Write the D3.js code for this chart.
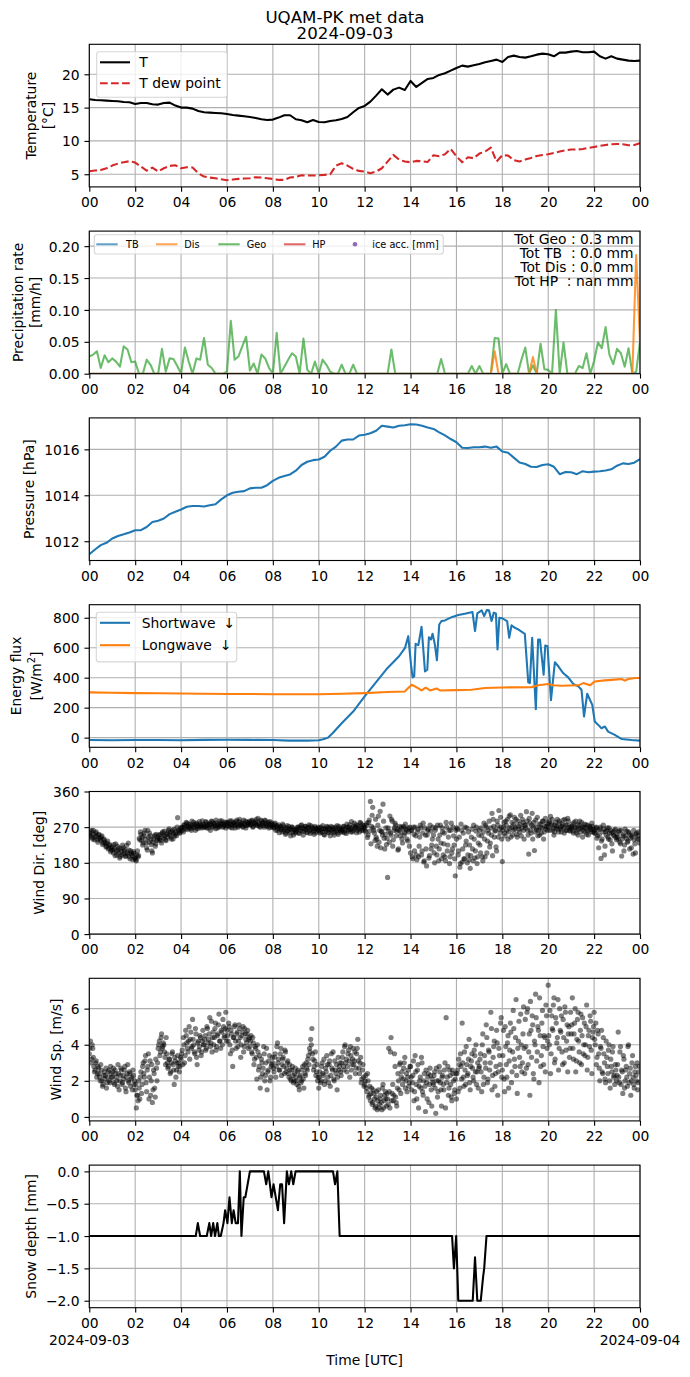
<!DOCTYPE html>
<html>
<head>
<meta charset="utf-8">
<script src="https://cdn.jsdelivr.net/npm/d3@7"></script>
<style>
body { margin: 0; background: #fff; }
text { font-family: "DejaVu Sans", sans-serif; }
</style>
</head>
<body>
<svg id="fig" width="690" height="1377"></svg>
<script>
// ---------------- DATA ----------------
const titleLines = ["UQAM-PK met data", "2024-09-03"];
const timeTickHours = [0, 2, 4, 6, 8, 10, 12, 14, 16, 18, 20, 22, 24];
const dateLabels = ["2024-09-03", "2024-09-04"];

// Temperature (15-min steps), degC
const tempValues = [16.25,16.15,16.1,16.05,16.0,15.95,15.85,15.8,15.55,15.7,15.7,15.5,15.45,15.7,15.75,15.3,
15.0,15.0,14.85,14.5,14.3,14.25,14.2,14.15,14.05,13.9,13.8,13.7,13.6,13.45,13.25,13.15,
13.2,13.5,13.85,13.85,13.25,13.1,12.8,13.15,12.85,12.8,13.0,13.1,13.3,13.6,14.3,14.95,
15.25,15.9,16.8,17.75,16.95,17.7,18.0,17.65,19.0,18.1,18.7,19.3,19.45,19.9,20.15,20.55,
20.95,21.3,21.15,21.35,21.55,21.8,22.0,22.2,21.85,22.6,22.8,22.6,22.5,22.7,22.95,23.1,
23.0,22.7,23.25,23.25,23.4,23.5,23.3,23.3,23.4,22.7,22.35,22.7,22.35,22.2,22.05,22.0,
22.05];
const dewValues = [5.45,5.55,5.65,5.9,6.3,6.6,6.8,6.95,6.75,6.15,5.55,6.0,5.4,5.9,6.25,6.35,
5.9,6.05,6.0,5.15,4.65,4.5,4.4,4.25,4.1,4.2,4.3,4.35,4.4,4.55,4.5,4.4,
4.3,4.15,4.15,4.5,4.6,4.85,4.8,4.8,4.85,4.9,5.0,6.3,6.65,6.3,5.8,5.5,
5.4,5.15,5.4,5.9,6.9,7.9,7.2,6.9,6.8,7.0,6.95,6.85,7.85,7.7,8.0,8.8,
7.7,6.8,7.55,7.4,8.1,8.4,9.0,6.9,7.85,7.8,7.1,6.9,7.2,7.45,7.75,7.9,
8.0,8.2,8.4,8.6,8.7,8.7,8.8,8.95,9.1,9.25,9.4,9.5,9.55,9.5,9.35,9.4,
9.65];
const tempTicks = [5, 10, 15, 20];
const tempLegend = ["T", "T dew point"];

// Precipitation rate (10-min steps), mm/h
const geoValues = [0.027,0.030,0.035,0.009,0.029,0.018,0.024,0.019,0.011,0.043,0.038,0.018,
0.019,0,0,0.022,0.014,0,0,0.039,0.003,0.024,0.023,0.012,
0,0.041,0.019,0,0.024,0.022,0.056,0.014,0.009,0,0,0,
0.003,0.083,0.022,0.027,0.043,0.058,0.005,0.016,0,0.03,0.024,0.009,
0,0.064,0,0.011,0.022,0.032,0.027,0,0.055,0.006,0,0.019,
0,0.022,0.014,0.003,0,0,0.014,0,0,0.014,0,0,
0,0,0,0,0,0,0,0.038,0,0,0,0,
0,0,0,0,0,0,0,0,0.023,0,0,0,
0,0,0,0,0.012,0,0.012,0,0,0,0.056,0.055,
0,0.015,0,0,0,0.022,0.041,0,0.013,0,0.047,0.007,
0.006,0,0.1,0,0.049,0,0,0,0.012,0.009,0.032,0,
0.02,0.049,0.04,0.073,0.03,0.015,0.039,0.032,0.011,0.04,0,0.003,
0.05];
const tbValues = [0,0,0,0,0,0,0,0,0,0,0,0, 0,0,0,0,0,0,0,0,0,0,0,0, 0,0,0,0,0,0,0,0,0,0,0,0,
0,0,0,0,0,0,0,0,0,0,0,0, 0,0,0,0,0,0,0,0,0,0,0,0, 0,0,0,0,0,0,0,0,0,0,0,0,
0,0,0,0,0,0,0,0,0,0,0,0, 0,0,0,0,0,0,0,0,0,0,0,0, 0,0,0,0,0,0,0,0,0,0,0,0,
0,0,0,0,0,0,0,0,0,0,0,0, 0,0,0,0,0,0,0,0,0,0,0,0, 0,0,0,0,0,0,0,0,0,0,0,0, 0];
const disValues = [0,0,0,0,0,0,0,0,0,0,0,0, 0,0,0,0,0,0,0,0,0,0,0,0, 0,0,0,0,0,0,0,0,0,0,0,0,
0,0,0,0,0,0,0,0,0,0,0,0, 0,0,0,0,0,0,0,0,0,0,0,0, 0,0,0,0,0,0,0,0,0,0,0,0,
0,0,0,0,0,0,0,0,0,0,0,0, 0,0,0,0,0,0,0,0,0,0,0,0, 0,0,0,0,0,0,0,0,0,0,0.035,0,
0,0,0,0,0,0,0,0,0.026,0,0,0, 0,0,0,0,0,0,0,0,0,0,0,0, 0,0,0,0,0,0,0,0,0,0,0,0.186, 0.05];
const precipTicks = [0, 0.05, 0.10, 0.15, 0.20];
const precipLegend = ["TB", "Dis", "Geo", "HP", "ice acc. [mm]"];
const precipTotals = ["Tot Geo : 0.3 mm", "Tot TB  : 0.0 mm", "Tot Dis : 0.0 mm", "Tot HP  : nan mm"];

// Pressure (15-min steps), hPa
const pressureValues = [1011.43,1011.64,1011.83,1011.93,1012.12,1012.23,1012.3,1012.38,1012.48,1012.48,1012.62,1012.84,1012.89,1012.99,1013.18,1013.28,
1013.38,1013.5,1013.53,1013.53,1013.51,1013.57,1013.61,1013.82,1014.0,1014.11,1014.15,1014.18,1014.3,1014.33,1014.33,1014.44,
1014.63,1014.76,1014.84,1014.91,1015.07,1015.32,1015.46,1015.53,1015.56,1015.68,1015.94,1016.12,1016.38,1016.43,1016.43,1016.6,
1016.64,1016.7,1016.81,1017.03,1016.99,1016.95,1017.03,1017.05,1017.09,1017.08,1017.03,1016.95,1016.89,1016.74,1016.61,1016.45,
1016.31,1016.07,1016.06,1016.09,1016.09,1016.12,1016.07,1016.12,1015.91,1015.85,1015.64,1015.43,1015.36,1015.24,1015.23,1015.32,
1015.35,1015.24,1014.92,1015.01,1015.0,1014.92,1015.05,1015.0,1015.03,1015.05,1015.08,1015.13,1015.29,1015.39,1015.36,1015.42,
1015.58];
const pressureTicks = [1012, 1014, 1016];

// Energy flux, W/m2 (hour of day, value)
const swHours = [0,1,2,3,4,5,6,7,8,8.7,9.5,10,10.2,10.4,10.6,10.8,11.0,11.5,12,12.5,13,13.5,
13.76,13.9,14.02,14.09,14.16,14.22,14.34,14.48,14.63,14.73,14.8,14.89,14.96,15.06,15.15,15.25,15.35,15.5,
15.79,16.08,16.37,16.7,16.81,16.91,17.02,17.1,17.21,17.32,17.42,17.53,17.63,17.72,17.79,17.87,18.0,18.21,18.3,18.4,
18.55,18.69,18.98,19.13,19.2,19.3,19.46,19.56,19.64,19.8,19.87,19.97,20.12,20.29,20.44,20.65,20.87,21.09,21.31,21.45,
21.56,21.7,21.92,22.03,22.18,22.32,22.47,22.61,22.9,23.19,23.63,24];
const swValues = [-16,-17,-16,-16,-17,-15,-14,-15,-16,-20,-20,-17,-11,0,29,63,96,174,275,371,465,543,
599,677,487,402,409,626,617,740,442,453,670,655,693,621,516,755,778,782,
804,818,827,838,711,829,840,849,811,851,849,778,834,829,588,800,796,778,666,749,
733,722,693,369,364,666,190,655,655,420,615,610,250,503,476,431,402,358,342,320,
141,293,219,107,85,63,74,40,18,-9,-16,-20];
const lwHours = [0,1,2,3,4,5,6,7,8,9,10,11,12,13,13.75,13.9,14.05,14.27,14.48,14.66,14.85,
15.14,15.28,15.93,16.66,17.24,18.0,19.28,19.57,20.0,20.22,20.58,21.31,21.53,21.82,22.03,22.47,22.9,23.19,23.34,23.49,23.78,24];
const lwValues = [302,300,297,296,295,293,291,291,290,290,290,293,297,304,308,331,353,335,315,333,315,
328,315,317,320,331,335,337,349,358,349,346,349,364,349,375,382,387,391,380,391,398,398];
const energyTicks = [0, 200, 400, 600, 800];
const energyLegend = ["Shortwave", "Longwave"];

// Wind direction, deg: samples on the 3-min marks ...
const windDirValues = [
255,248,262,240,252,245,258,238,250,243,236,248,230,240,228,222,235,218,226,212,
220,205,215,228,200,212,218,196,208,225,203,214,198,206,230,195,210,202,188,204,
192,185,210,198,238,252,245,230,255,240,218,262,232,248,226,205,240,250,228,236,
245,238,252,230,258,242,248,236,255,262,250,245,258,240,265,252,248,294,260,256,
262,270,258,275,266,280,272,268,277,262,274,282,270,278,266,275,284,272,268,276,
278,270,282,274,268,280,276,284,272,278,266,281,275,270,286,276,279,272,283,268,
274,282,278,270,286,276,280,268,284,278,273,290,276,281,270,279,285,274,280,277,
282,276,288,272,280,284,276,292,278,270,285,280,274,288,279,272,283,276,270,281,
275,268,280,272,262,276,266,270,258,274,264,252,268,260,272,256,265,270,250,262,
258,266,270,254,262,276,268,260,272,264,256,270,262,274,258,266,252,268,260,264,
262,255,270,258,266,250,264,272,258,268,248,262,270,256,266,260,274,252,268,262,
266,258,272,262,254,270,264,276,258,268,262,280,270,256,274,266,282,262,276,270,
268,258,280,250,288,335,272,320,262,236,245,222,298,262,218,258,328,242,252,226,
143,260,298,250,285,238,268,275,260,212,262,248,270,230,272,256,265,240,268,222,
205,262,190,252,270,200,258,195,245,268,210,280,185,250,172,262,192,275,215,240,
250,180,268,200,240,215,275,190,258,228,195,282,210,245,178,262,205,270,225,147,
240,265,210,169,278,182,255,190,225,268,200,188,166,245,215,275,192,260,178,230,
262,205,248,185,280,195,270,235,255,220,268,305,290,245,262,210,275,312,255,270,
183,270,255,285,262,240,298,301,270,250,278,265,290,245,272,258,300,268,282,240,
275,309,262,202,280,255,305,270,211,288,262,248,278,268,255,285,240,272,265,280,
270,285,297,278,262,250,275,268,290,258,280,265,272,288,255,276,262,292,270,260,
266,278,255,270,285,262,250,275,268,282,245,270,258,276,262,250,272,265,280,258,
262,255,270,248,218,265,191,240,275,200,258,262,245,268,238,255,210,250,262,244,
252,240,262,228,197,248,210,265,242,232,258,215,250,245,202,238,205,255,248,240];
// ... and samples half-way between them (1.5 min later)
const windDirValuesB = [
250,258,244,262,238,255,247,232,252,240,245,226,238,232,220,230,215,224,208,218,
212,226,198,210,222,205,192,215,200,218,210,196,224,202,212,190,205,198,208,192,
188,200,195,242,258,236,225,248,262,230,212,244,255,238,210,232,246,222,252,240,
250,242,236,255,248,260,238,252,245,266,256,240,262,254,248,258,270,262,255,268,
268,262,276,270,282,264,278,272,266,285,270,276,262,280,272,268,278,274,286,270,
272,284,268,278,275,262,285,270,280,274,288,268,277,272,280,286,270,278,275,282,
280,272,286,276,268,282,278,274,288,270,284,276,279,272,288,275,268,283,278,285,
276,286,270,282,278,290,274,280,272,288,276,282,270,286,274,280,268,284,278,272,
270,278,262,274,268,256,272,264,278,260,268,255,274,262,266,248,270,258,264,255,
262,270,256,268,274,260,250,266,272,258,268,276,254,264,270,260,272,256,266,270,
268,258,264,274,252,266,260,270,256,264,272,258,266,250,270,262,256,272,264,258,
262,272,256,268,278,260,270,264,284,258,272,266,276,262,270,258,280,268,262,274,
262,275,244,282,260,228,300,268,255,290,240,275,232,310,260,250,285,215,268,242,
268,232,255,290,222,262,280,248,265,215,272,258,240,268,250,278,262,235,258,270,
262,195,270,210,248,188,265,222,275,200,255,182,268,215,250,265,198,260,225,270,
205,262,222,275,185,250,230,268,200,255,185,270,225,262,195,280,215,248,190,262,
268,200,245,178,262,215,190,270,235,180,258,225,198,265,185,240,210,270,195,250,
225,268,195,258,240,275,205,262,285,230,250,198,272,260,220,285,245,265,295,240,
262,282,248,275,290,258,268,245,282,262,295,270,252,285,265,278,248,290,262,275,
268,285,250,292,262,275,240,282,258,270,295,262,250,278,268,285,258,292,272,262,
280,262,275,290,268,258,282,272,265,285,270,258,278,268,290,262,275,285,262,270,
272,260,282,268,255,276,265,285,258,270,262,278,268,252,275,262,270,258,272,265,
255,268,242,262,250,270,235,258,265,222,250,268,240,255,262,228,258,248,265,238,
245,258,232,262,240,252,225,248,260,235,255,242,218,250,262,228,252,240,258,230];
const windDirTicks = [0, 90, 180, 270, 360];

// Wind speed, m/s: samples on the 3-min marks ...
const windSpValues = [
3.5,4.2,3.2,3.8,2.8,2.6,3.1,2.4,2.7,2.2,2.9,2.0,1.8,2.5,2.3,1.6,2.2,2.6,1.9,2.4,
2.2,2.7,1.8,2.4,2.0,2.9,1.5,2.3,2.6,1.9,2.1,2.8,1.4,2.4,2.0,2.5,1.7,2.2,2.6,1.8,
1.5,0.5,1.2,2.0,1.0,2.5,1.8,3.0,2.2,3.4,1.4,2.8,1.0,3.1,2.0,0.8,2.6,1.6,3.2,2.0,
3.8,4.2,3.6,4.6,3.9,4.0,3.3,4.4,3.0,2.8,3.2,2.5,3.5,2.9,1.8,3.1,2.6,3.4,3.0,2.8,
3.2,3.7,4.4,3.0,4.8,4.1,3.6,5.0,4.3,3.8,5.4,4.0,3.5,4.6,2.9,4.2,3.9,4.4,3.6,4.8,
4.0,4.5,3.8,4.9,4.3,5.5,4.1,3.6,4.7,4.4,5.2,3.9,4.6,5.7,4.2,4.8,4.0,5.0,4.5,5.8,
4.8,4.2,5.0,3.5,4.6,2.8,4.4,5.1,3.8,4.7,4.2,4.9,3.3,4.5,5.0,3.9,4.6,4.1,4.8,4.3,
3.9,4.5,3.5,4.1,3.2,3.8,2.1,3.6,2.8,1.6,3.2,2.4,3.9,2.0,3.0,1.5,2.6,3.4,2.2,2.9,
3.0,2.5,3.5,2.8,4.1,3.2,2.6,3.8,2.9,3.3,2.4,3.6,2.7,3.1,2.2,2.6,2.0,2.8,1.9,2.4,
2.2,1.8,2.6,1.5,2.3,2.0,2.8,1.6,2.4,3.0,2.6,3.4,3.8,4.3,4.9,3.2,2.8,3.6,2.5,2.0,
1.6,2.5,2.0,3.0,2.3,1.8,2.7,3.4,2.2,2.9,1.7,3.5,2.6,2.1,3.1,2.4,1.5,3.3,2.8,2.5,
3.0,3.6,2.6,4.0,3.2,2.8,3.7,2.2,3.4,2.9,3.8,3.1,2.4,3.5,4.3,2.7,3.0,1.9,2.6,2.2,
1.8,2.3,1.4,2.0,1.2,0.9,1.6,0.8,1.3,0.5,1.1,0.4,1.5,0.7,1.2,0.4,1.8,0.9,1.4,0.6,
1.0,3.8,0.5,4.4,1.3,0.9,3.5,1.1,0.6,2.4,1.5,3.0,2.2,1.8,2.7,3.3,2.0,1.4,2.6,1.9,
2.8,1.5,2.3,0.9,3.4,1.8,2.6,0.5,2.0,1.6,3.0,1.2,2.4,0.3,1.9,2.2,0.8,2.7,1.5,2.1,
1.8,2.5,0.2,2.0,1.4,2.8,1.9,0.6,2.3,1.5,3.0,5.5,2.2,1.2,2.6,1.8,0.9,2.4,1.3,2.1,
1.0,2.6,3.2,1.6,2.8,5.2,2.2,3.6,1.8,2.9,2.4,4.3,1.5,3.1,2.7,2.0,3.4,4.0,2.5,1.6,
2.8,3.5,1.4,4.6,2.2,3.0,5.1,1.9,3.7,2.6,5.8,1.5,3.3,4.2,2.4,4.8,1.2,3.8,2.9,5.5,
2.6,4.8,1.4,3.9,2.2,4.5,3.1,5.2,1.9,3.6,4.9,2.8,6.5,1.3,4.2,3.3,5.7,2.5,4.6,3.8,
5.4,2.7,6.0,3.6,1.2,4.8,5.6,2.4,4.2,6.8,3.1,5.0,1.9,4.5,3.4,5.9,2.9,4.4,6.2,3.8,
7.3,4.0,2.4,5.6,4.8,6.6,3.2,5.2,4.4,2.6,6.0,4.7,3.6,5.4,3.0,5.8,4.2,2.5,5.0,3.8,
4.6,6.6,3.2,5.2,2.5,4.3,5.8,3.6,4.8,2.9,5.5,4.0,3.4,5.0,2.6,4.5,3.9,5.3,2.4,4.7,
5.8,4.0,2.9,4.8,3.5,2.0,3.8,2.5,4.4,3.0,1.9,3.3,2.4,4.0,1.6,2.8,3.6,2.2,1.8,2.6,
2.3,4.7,1.9,3.9,2.6,1.3,3.2,2.0,2.8,1.7,4.0,2.4,1.2,3.0,2.2,1.6,2.8,2.0,1.5,2.5];
// ... and samples half-way between them (1.5 min later)
const windSpValuesB = [
3.8,3.0,4.0,3.3,2.5,3.0,2.2,2.8,2.4,2.0,2.6,1.7,2.3,2.1,2.7,1.9,2.5,2.0,2.8,2.2,
2.5,1.9,2.6,2.2,1.7,2.4,2.0,2.7,1.8,2.3,2.6,1.6,2.2,2.9,1.9,2.4,2.1,1.5,2.3,2.0,
1.8,1.2,0.9,1.6,2.2,1.3,2.8,2.4,3.1,1.9,2.6,3.5,2.2,1.2,2.9,1.5,2.4,1.1,2.7,3.0,
4.0,3.4,4.4,3.8,4.1,3.6,2.9,3.5,2.7,3.2,2.4,3.0,3.6,2.6,3.3,2.2,3.0,2.8,2.5,3.3,
3.5,2.9,4.0,3.4,4.5,3.8,4.2,3.2,4.7,3.9,4.3,3.6,4.9,3.3,4.1,3.7,4.5,3.4,4.2,4.0,
4.3,3.7,5.0,4.1,4.6,3.9,5.3,4.4,4.0,4.9,3.7,4.5,5.1,4.2,3.8,4.7,5.4,4.4,4.9,4.2,
4.5,5.2,4.0,4.8,3.7,4.4,5.0,4.2,4.6,3.9,5.1,4.4,4.0,4.7,3.6,4.9,4.3,4.6,3.8,4.4,
4.2,3.6,4.4,2.9,3.9,3.3,4.0,2.6,3.4,2.2,3.0,2.7,3.5,2.3,3.8,2.5,3.1,2.0,2.8,3.3,
2.7,3.3,2.2,3.9,3.0,2.6,3.5,2.3,3.2,2.8,3.7,2.5,3.0,2.4,2.9,2.1,2.6,2.3,2.0,2.7,
2.0,2.5,1.7,2.2,1.9,2.6,2.1,2.9,2.3,2.7,3.2,2.9,3.6,4.0,3.5,2.6,3.1,2.3,2.9,2.2,
2.2,1.9,2.8,2.4,3.2,2.0,2.5,2.9,1.9,3.1,2.3,2.7,3.6,2.0,2.6,2.9,2.2,2.6,3.0,2.3,
3.3,2.8,3.9,3.0,2.5,3.5,3.1,3.9,2.6,3.2,2.9,3.6,2.7,3.8,3.1,2.4,3.3,2.1,2.9,1.7,
2.0,1.6,2.4,1.1,1.7,1.3,0.7,1.5,1.0,0.6,1.4,0.9,0.5,1.0,0.8,1.6,0.5,1.2,1.0,1.3,
0.7,1.4,3.6,0.9,1.8,1.2,2.8,0.8,1.6,2.0,2.9,1.3,2.5,2.1,3.0,1.6,2.4,2.2,1.7,2.8,
2.2,1.9,3.1,1.4,2.5,1.0,2.9,1.7,2.2,3.3,1.4,2.0,1.7,2.6,1.0,2.4,1.8,2.3,0.6,1.9,
2.3,1.6,2.7,1.1,2.0,2.5,1.5,2.2,1.8,2.6,0.5,1.9,2.8,1.6,2.3,1.1,2.6,2.0,1.5,2.4,
2.4,1.4,2.9,3.5,2.1,3.0,1.7,2.6,3.9,2.3,3.2,1.9,2.8,3.5,2.2,3.7,2.5,1.8,3.0,2.7,
3.2,2.5,4.0,1.8,3.4,2.7,4.4,2.1,3.6,3.0,4.9,2.3,3.9,1.7,2.8,4.1,2.5,3.4,5.2,2.2,
3.4,2.1,5.0,2.9,4.1,1.6,3.7,4.7,2.5,5.9,3.2,4.4,2.3,3.8,5.3,2.8,4.0,3.0,6.1,2.4,
3.9,5.8,2.9,4.6,6.4,3.3,5.1,2.1,4.0,5.5,3.6,4.8,6.6,2.8,5.2,3.9,4.5,2.5,5.6,4.2,
4.5,5.9,3.5,4.9,6.2,3.0,5.5,4.1,6.5,3.8,4.8,5.6,2.9,4.4,6.1,3.7,5.1,4.6,3.3,5.8,
5.1,3.8,4.6,6.0,3.1,5.4,4.2,3.0,5.7,4.5,3.5,5.2,4.0,6.2,3.3,4.8,5.6,3.7,4.4,5.0,
4.3,5.2,3.3,4.6,2.7,3.9,4.8,2.4,3.5,2.1,4.2,2.8,3.7,2.0,3.2,2.5,3.9,2.3,2.9,2.0,
2.9,2.2,3.6,1.8,2.5,3.4,1.6,2.6,2.2,3.9,1.9,2.7,2.0,3.4,1.8,2.5,2.3,3.0,1.9,2.8];
const windSpTicks = [0, 2, 4, 6];

// Snow depth, mm (hour of day, value)
const snowHours = [0,4.64,4.73,4.83,5.12,5.23,5.31,5.4,5.48,5.58,5.65,5.73,5.85,5.92,6.02,6.11,6.21,6.29,6.38,6.48,
6.56,6.63,6.73,6.8,7.0,7.61,7.71,7.8,7.94,8.03,8.22,8.32,8.4,8.49,8.61,8.7,8.8,8.89,8.99,10.62,
10.71,10.81,10.91,15.81,15.89,15.99,16.08,16.71,16.81,16.91,17.06,17.16,17.21,17.31,24];
const snowValues = [-1,-1,-0.8,-1,-1,-0.8,-1,-0.8,-1,-0.8,-1,-1,-0.8,-0.6,-0.8,-0.4,-0.8,-0.6,-0.8,-0.8,
0,-1,-0.4,-0.4,0,0,-0.2,0,-0.4,-0.2,-0.6,-0.2,-0.2,-0.8,0,-0.2,0,-0.2,0,0,
-0.2,0,-1,-1,-1.5,-1,-2,-2,-1.33,-2,-2,-1.64,-1.5,-1,-1];
const snowTicks = [-2.0, -1.5, -1.0, -0.5, 0.0];

// ---------------- LAYOUT ----------------
const FS = 13.89, FS_TITLE = 16.67;
const L = 89.3, R = 640, TOP0 = 44.3, STEP = 186.8, PH = 142.6;
const TICK = 4.86, PAD = 4.86, LW = 2.08, THIN = 1.11;
const C = { blue: "#1f77b4", orange: "#ff7f0e", green: "#2ca02c", red: "#d62728", purple: "#9467bd" };

const svg = d3.select("#fig");
svg.append("rect").attr("width", 690).attr("height", 1377).attr("fill", "#fff");
const defs = svg.append("defs");

const t0 = Date.UTC(2024, 8, 3, 0, 0, 0);
const HOUR = 3600e3;
const x = d3.scaleUtc().domain([new Date(t0), new Date(t0 + 24 * HOUR)]).range([L, R]);
const xTicks = timeTickHours.map(h => new Date(t0 + h * HOUR));
const regular = (vals, stepMin, offsetMin = 0) =>
  vals.map((v, i) => ({ t: new Date(t0 + (offsetMin + i * stepMin) * 60e3), v }));
const paired = (hrs, vals) => hrs.map((h, i) => ({ t: new Date(t0 + h * HOUR), v: vals[i] }));

function styleAxis(ax) {
  ax.attr("font-family", "DejaVu Sans").attr("font-size", FS);
  ax.select(".domain").remove();
  ax.selectAll(".tick line").attr("stroke", "#000").attr("stroke-width", THIN);
  ax.selectAll(".tick text").attr("fill", "#000");
}

function makePanel(i, domain, ticks, fmt) {
  const top = TOP0 + i * STEP, bottom = top + PH;
  const y = d3.scaleLinear().domain(domain).range([bottom, top]);
  const g = svg.append("g");
  defs.append("clipPath").attr("id", "clip" + i)
    .append("rect").attr("x", L).attr("y", top).attr("width", R - L).attr("height", PH);
  const grid = g.append("g").attr("stroke", "#b0b0b0").attr("stroke-width", THIN);
  grid.selectAll("line.gx").data(xTicks).join("line").attr("class", "gx")
    .attr("x1", d => x(d)).attr("x2", d => x(d)).attr("y1", top).attr("y2", bottom);
  grid.selectAll("line.gy").data(ticks).join("line").attr("class", "gy")
    .attr("x1", L).attr("x2", R).attr("y1", d => y(d)).attr("y2", d => y(d));
  const plot = g.append("g").attr("clip-path", `url(#clip${i})`);
  const over = g.append("g");
  over.append("rect").attr("x", L).attr("y", top).attr("width", R - L).attr("height", PH)
    .attr("fill", "none").attr("stroke", "#000").attr("stroke-width", THIN);
  const xa = over.append("g").attr("transform", `translate(0,${bottom})`)
    .call(d3.axisBottom(x).tickValues(xTicks).tickFormat(d3.utcFormat("%H"))
      .tickSizeInner(TICK).tickSizeOuter(0).tickPadding(PAD));
  styleAxis(xa);
  xa.selectAll(".tick text").attr("y", TICK + PAD).attr("dy", "0.76em");
  const ya = over.append("g").attr("transform", `translate(${L},0)`)
    .call(d3.axisLeft(y).tickValues(ticks).tickFormat(fmt)
      .tickSizeInner(TICK).tickSizeOuter(0).tickPadding(PAD));
  styleAxis(ya);
  ya.selectAll(".tick text").attr("dy", "0.365em");
  return { plot, over, y, top, bottom };
}

function yLabel(p, lines, xs) {
  const cy = (p.top + p.bottom) / 2;
  lines.forEach((ln, j) => {
    const t = svg.append("text").attr("transform", `translate(${xs[j] + 4.2},${cy}) rotate(-90)`)
      .attr("text-anchor", "middle").attr("font-size", FS).attr("fill", "#000");
    if (typeof ln === "string") t.text(ln);
    else ln(t);
  });
}

function drawLine(p, data, color, opts = {}) {
  const line = d3.line().x(d => x(d.t)).y(d => p.y(d.v)).defined(d => d.v != null);
  p.plot.append("path").datum(data).attr("d", line)
    .attr("fill", "none").attr("stroke", color).attr("stroke-width", opts.width || LW)
    .attr("stroke-opacity", opts.opacity || 1)
    .attr("stroke-linejoin", "round")
    .attr("stroke-dasharray", opts.dash || null);
}

function drawScatter(p, data) {
  p.plot.append("g").selectAll("circle").data(data).join("circle")
    .attr("cx", d => x(d.t)).attr("cy", d => p.y(d.v)).attr("r", 2.6)
    .attr("fill", "#000").attr("fill-opacity", 0.5);
}

function legendFrame(x0, y0, w, h) {
  svg.append("rect").attr("x", x0).attr("y", y0).attr("width", w).attr("height", h).attr("rx", 2.8)
    .attr("fill", "#fff").attr("fill-opacity", 0.8)
    .attr("stroke", "#cccccc").attr("stroke-opacity", 0.8).attr("stroke-width", THIN);
}
function legendHandle(x1, x2, yy, color, opts = {}) {
  svg.append("line").attr("x1", x1).attr("x2", x2).attr("y1", yy).attr("y2", yy)
    .attr("stroke", color).attr("stroke-width", LW).attr("stroke-opacity", opts.opacity || 1)
    .attr("stroke-dasharray", opts.dash || null);
}
function legendText(xx, yy, str, size) {
  return svg.append("text").attr("x", xx).attr("y", yy + 0.365 * size).attr("font-size", size)
    .attr("fill", "#000").text(str);
}

// ---------------- TITLE ----------------
svg.append("text").attr("x", 345).attr("y", 22.7).attr("text-anchor", "middle")
  .attr("font-size", FS_TITLE).attr("fill", "#000").text(titleLines[0]);
svg.append("text").attr("x", 345).attr("y", 39.3).attr("text-anchor", "middle")
  .attr("font-size", FS_TITLE).attr("fill", "#000").text(titleLines[1]);

// ---------------- PANEL 1: Temperature ----------------
const p1 = makePanel(0, [3.1, 24.5], tempTicks, d3.format("d"));
drawLine(p1, regular(tempValues, 15), "#000");
drawLine(p1, regular(dewValues, 15), C.red, { dash: "7.7,3.33" });
yLabel(p1, ["Temperature", "[°C]"], [31.8, 48.8]);
legendFrame(96.7, 51.7, 130.6, 45.6);
legendHandle(100, 130, 62.3, "#000");
legendHandle(100, 130, 83.3, C.red, { dash: "7.7,3.33" });
legendText(139.3, 62.3, tempLegend[0], FS);
legendText(139.3, 83.3, tempLegend[1], FS);

// ---------------- PANEL 2: Precipitation ----------------
const p2 = makePanel(1, [0, 0.2236], precipTicks, d3.format(".2f"));
drawLine(p2, regular(geoValues, 10), C.green, { opacity: 0.7 });
drawLine(p2, regular(tbValues, 10), C.blue, { opacity: 0.7 });
drawLine(p2, regular(disValues, 10), C.orange, { opacity: 0.8 });
yLabel(p2, ["Precipitation rate", "[mm/h]"], [18.8, 35.8]);
legendFrame(94.3, 234.7, 349, 19.3);
const lgY = 244.3, SFS = 9.72;
legendHandle(96.3, 117.7, lgY, C.blue, { opacity: 0.7 });
legendText(126, lgY, precipLegend[0], SFS);
legendHandle(156, 177.4, lgY, C.orange, { opacity: 0.7 });
legendText(184.3, lgY, precipLegend[1], SFS);
legendHandle(218.3, 239.7, lgY, C.green, { opacity: 0.7 });
legendText(246.7, lgY, precipLegend[2], SFS);
legendHandle(284, 305.4, lgY, C.red, { opacity: 0.7 });
legendText(312.3, lgY, precipLegend[3], SFS);
svg.append("circle").attr("cx", 355).attr("cy", lgY).attr("r", 2.3).attr("fill", C.purple);
legendText(372.3, lgY, precipLegend[4], SFS);
precipTotals.forEach((s, j) => {
  svg.append("text").attr("x", 633.5).attr("y", 243.6 + j * 14.1).attr("text-anchor", "end")
    .attr("font-size", FS).attr("fill", "#000").attr("xml:space", "preserve")
    .style("white-space", "pre").text(s);
});

// ---------------- PANEL 3: Pressure ----------------
const p3 = makePanel(2, [1011.16, 1017.37], pressureTicks, d3.format("d"));
drawLine(p3, regular(pressureValues, 15), C.blue);
yLabel(p3, ["Pressure [hPa]"], [29.5]);

// ---------------- PANEL 4: Energy flux ----------------
const p4 = makePanel(3, [-64.5, 887], energyTicks, d3.format("d"));
drawLine(p4, paired(swHours, swValues), C.blue);
drawLine(p4, paired(lwHours, lwValues), C.orange);
yLabel(p4, ["Energy flux", t => {
  t.append("tspan").text("[W/m");
  t.append("tspan").attr("font-size", 9.7).attr("dy", -5.5).text("2");
  t.append("tspan").attr("dy", 5.5).text("]");
}], [16.9, 36.7]);
legendFrame(96.3, 612.3, 140.4, 49.6);
legendHandle(100, 130, 622.8, C.blue);
legendHandle(100, 130, 645.2, C.orange);
legendText(141.7, 622.8, energyLegend[0], FS).append("tspan").attr("dx", 8).text("↓");
legendText(141.7, 645.2, energyLegend[1], FS).append("tspan").attr("dx", 8).text("↓");

// ---------------- PANEL 5: Wind direction ----------------
const p5 = makePanel(4, [0, 360], windDirTicks, d3.format("d"));
drawScatter(p5, regular(windDirValues, 3).concat(regular(windDirValuesB, 3, 1.5)));
yLabel(p5, ["Wind Dir. [deg]"], [39.6]);

// ---------------- PANEL 6: Wind speed ----------------
const p6 = makePanel(5, [-0.22, 7.68], windSpTicks, d3.format("d"));
drawScatter(p6, regular(windSpValues, 3).concat(regular(windSpValuesB, 3, 1.5)));
yLabel(p6, ["Wind Sp. [m/s]"], [57.2]);

// ---------------- PANEL 7: Snow depth ----------------
const p7 = makePanel(6, [-2.108, 0.097], snowTicks, d3.format(".1f"));
drawLine(p7, paired(snowHours, snowValues), "#000");
yLabel(p7, ["Snow depth [mm]"], [32.2]);
[xTicks[0], xTicks[xTicks.length - 1]].forEach((d, j) => {
  svg.append("text").attr("x", x(d)).attr("y", p7.bottom + TICK + PAD + 10.56 + 16.67)
    .attr("text-anchor", "middle").attr("font-size", FS).attr("fill", "#000").text(dateLabels[j]);
});
svg.append("text").attr("x", (L + R) / 2).attr("y", 1364.5).attr("text-anchor", "middle")
  .attr("font-size", FS).attr("fill", "#000").text("Time [UTC]");
</script>
</body>
</html>
